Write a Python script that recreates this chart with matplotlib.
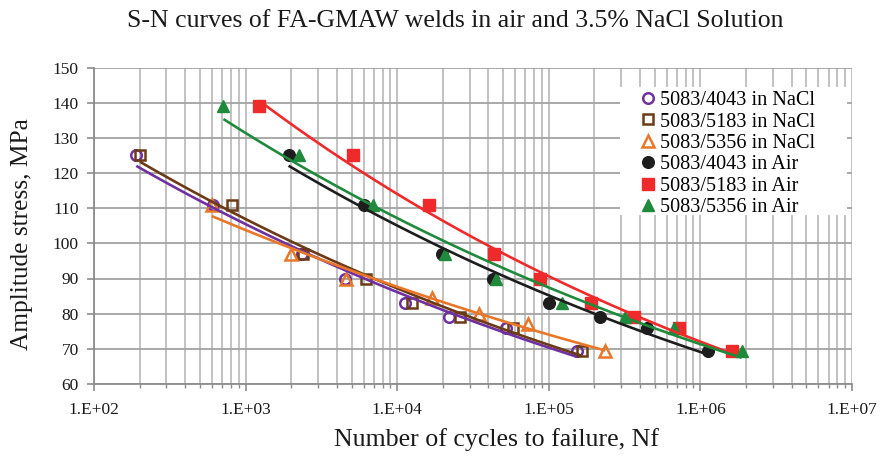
import numpy as np
import matplotlib
matplotlib.use("Agg")
import matplotlib.pyplot as plt
from matplotlib.patches import Rectangle
from matplotlib.ticker import FixedLocator, FuncFormatter, NullFormatter

# Cycles to failure (Nf) and stress amplitude (MPa) for each weld / environment
labels = ["5083/4043 in NaCl", "5083/5183 in NaCl", "5083/5356 in NaCl",
          "5083/4043 in Air", "5083/5183 in Air", "5083/5356 in Air"]

n_4043_nacl = [190, 610, 2350, 4550, 11300, 22000, 52000, 153000]
s_4043_nacl = [125, 111, 97, 90, 83, 79, 76, 69.5]

n_5183_nacl = [201, 811, 2400, 6240, 12500, 26000, 58300, 165000]
s_5183_nacl = [125, 111, 97, 90, 83, 79, 76, 69.5]

n_5356_nacl = [598, 1990, 4600, 16900, 34800, 72800, 236000]
s_5356_nacl = [111, 97, 90, 84.5, 80, 77, 69.5]

n_4043_air = [1920, 6000, 19700, 42900, 99800, 219000, 445000, 1130000]
s_4043_air = [125, 111, 97, 90, 83, 79, 76, 69.5]

n_5183_air = [1230, 5100, 16300, 43200, 88000, 190000, 363000, 719000, 1620000]
s_5183_air = [139, 125, 111, 97, 90, 83, 79, 76, 69.5]

n_5356_air = [714, 2265, 6920, 20700, 45000, 122000, 320000, 673000, 1870000]
s_5356_air = [139, 125, 111, 97, 90, 83, 79, 76, 69.5]

x_ticks = [1e2, 1e3, 1e4, 1e5, 1e6, 1e7]
y_ticks = [60, 70, 80, 90, 100, 110, 120, 130, 140, 150]

series = [
    (n_4043_nacl, s_4043_nacl, "#7030a0", "o", False),
    (n_5183_nacl, s_5183_nacl, "#6b3a16", "s", False),
    (n_5356_nacl, s_5356_nacl, "#e8772a", "^", False),
    (n_4043_air, s_4043_air, "#1d1d1d", "o", True),
    (n_5183_air, s_5183_air, "#ee2a2a", "s", True),
    (n_5356_air, s_5356_air, "#1f8a3b", "^", True),
]

serif = ["Liberation Serif", "DejaVu Serif"]
plt.rcParams["font.family"] = serif
text_color = "#1a1a1a"

W, H = 882, 457
fig = plt.figure(figsize=(W / 100, H / 100), dpi=100)
ax = fig.add_axes([94 / W, 73 / H, 758 / W, 316.5 / H])
ax.set_xscale("log")
ax.set_xlim(x_ticks[0], x_ticks[-1])
ax.set_ylim(y_ticks[0], y_ticks[-1])

handles = []
for (n, s, color, marker, filled), label in zip(series, labels):
    n = np.asarray(n, float)
    s = np.asarray(s, float)
    msize = {"o": 8.4, "s": 8.4, "^": 9.0}[marker]
    if filled:
        h, = ax.plot(n, s, linestyle="none", marker=marker, markersize=msize,
                     markerfacecolor=color, markeredgecolor=color,
                     markeredgewidth=1.0, zorder=4, label=label)
    else:
        h, = ax.plot(n, s, linestyle="none", marker=marker, markersize=msize - 0.8,
                     markerfacecolor="none", markeredgecolor=color,
                     markeredgewidth=1.8, zorder=4, label=label)
    handles.append(h)
    # power-law trendline  S = A * N^b
    b, log_a = np.polyfit(np.log(n), np.log(s), 1)
    nn = np.logspace(np.log10(n.min()), np.log10(n.max()), 200)
    ax.plot(nn, np.exp(log_a) * nn ** b, color=color, linewidth=1.9,
            zorder=5, solid_capstyle="butt")

# axes styling
ax.yaxis.set_major_locator(FixedLocator(y_ticks))
ax.xaxis.set_major_locator(FixedLocator(x_ticks))
minor = [m * 10.0 ** e for e in range(2, 7) for m in range(2, 10)]
ax.xaxis.set_minor_locator(FixedLocator(minor))
ax.xaxis.set_minor_formatter(NullFormatter())
ax.xaxis.set_major_formatter(
    FuncFormatter(lambda v, _: "1.E+%02d" % int(round(np.log10(v)))))

ax.grid(axis="y", which="major", color="#a3a3a3", linewidth=1.3, zorder=0)
ax.grid(axis="x", which="both", color="#bdbdbd", linewidth=1.3, zorder=0)
ax.set_axisbelow(True)

for side in ("top", "right"):
    ax.spines[side].set_visible(False)
for side in ("left", "bottom"):
    ax.spines[side].set_color("#8c8c8c")
    ax.spines[side].set_linewidth(1.3)

ax.tick_params(axis="both", which="major", direction="out", length=5,
               width=1.2, color="#8c8c8c", labelsize=12.5, pad=6,
               labelcolor=text_color)
ax.tick_params(axis="x", which="minor", direction="out", length=3,
               width=1.0, color="#8c8c8c")
ax.tick_params(axis="x", which="major", pad=8)

fig.text(455 / W, 1 - 21 / H,
         "S-N curves of FA-GMAW welds in air and 3.5% NaCl Solution",
         fontsize=18.5, ha="center", va="center", color=text_color)
fig.text(496 / W, 1 - 440 / H, "Number of cycles to failure, Nf",
         fontsize=18.6, ha="center", va="center", color=text_color)
fig.text(22 / W, 1 - 234 / H, "Amplitude stress, MPa", rotation=90,
         fontsize=18.3, ha="center", va="center", color=text_color)

# white legend panel hiding the grid behind the entries
ax.add_patch(Rectangle((0.694, 0.534), 0.299, 0.404, transform=ax.transAxes,
                       facecolor="white", edgecolor="none", zorder=3))
leg = ax.legend(handles=handles, loc="upper left",
                bbox_to_anchor=(0.7203, 0.926), fontsize=14.6,
                frameon=False, handlelength=0.8, handletextpad=0.2,
                labelspacing=0.11, borderpad=0.0, borderaxespad=0.0)
leg.set_zorder(10)

fig.savefig("out.png", dpi=100, facecolor="white")
